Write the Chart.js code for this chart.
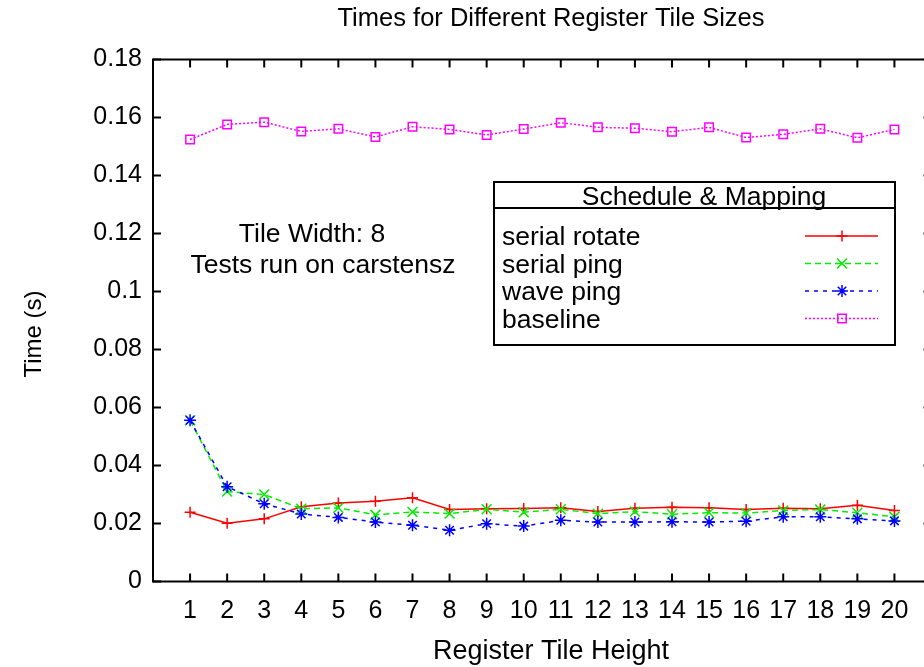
<!DOCTYPE html>
<html>
<head>
<meta charset="utf-8">
<script src="https://cdn.jsdelivr.net/npm/chart.js@4"></script>
<style>
  html, body { margin: 0; padding: 0; background: #fff; overflow: hidden; }
  canvas { display: block; }
</style>
</head>
<body>
<canvas id="tiles" width="940" height="667"></canvas>
<script>
const tileHeights = [1, 2, 3, 4, 5, 6, 7, 8, 9, 10, 11, 12, 13, 14, 15, 16, 17, 18, 19, 20];
const serialRotate = [0.0239, 0.0201, 0.0216, 0.0258, 0.0271, 0.0277, 0.0289, 0.0248, 0.0251, 0.0252,
                      0.0254, 0.0241, 0.0253, 0.0256, 0.0254, 0.0248, 0.0253, 0.0251, 0.0263, 0.0245];
const serialPing = [0.0556, 0.0310, 0.0300, 0.0251, 0.0254, 0.0230, 0.0240, 0.0234, 0.0249, 0.0239,
                    0.0249, 0.0234, 0.0241, 0.0232, 0.0237, 0.0236, 0.0245, 0.0248, 0.0237, 0.0223];
const wavePing = [0.0556, 0.0327, 0.0268, 0.0233, 0.0221, 0.0205, 0.0194, 0.0177, 0.0199, 0.0191,
                  0.0211, 0.0205, 0.0205, 0.0206, 0.0205, 0.0208, 0.0223, 0.0223, 0.0216, 0.0209];
const baseline = [0.1524, 0.1576, 0.1584, 0.1552, 0.1561, 0.1533, 0.1568, 0.1559, 0.1540, 0.1560,
                  0.1582, 0.1566, 0.1563, 0.1551, 0.1566, 0.1531, 0.1542, 0.1561, 0.1530, 0.1559];
const seriesNames = ["serial rotate", "serial ping", "wave ping", "baseline"];
const chartTitle = "Times for Different Register Tile Sizes";
const xTitle = "Register Tile Height";
const yTitle = "Time (s)";
const legendTitle = "Schedule & Mapping";
const noteLines = ["Tile Width: 8", "Tests run on carstensz"];

const FONT = "'Liberation Sans', Arial, Helvetica, sans-serif";

function pts(vals) {
    return tileHeights.map((h, i) => ({ x: h, y: vals[i] }));
}

// gnuplot style frame with inward ticks, titles, legend box and label
const gnuplotBits = {
    id: "gnuplotBits",
    afterDraw(chart) {
        const ctx = chart.ctx;
        const a = chart.chartArea;
        const xs = chart.scales.x, ys = chart.scales.y;
        ctx.save();
        ctx.strokeStyle = "#000";
        ctx.lineWidth = 2;
        ctx.beginPath();
        ys.ticks.forEach(t => {
            const y = ys.getPixelForValue(t.value);
            ctx.moveTo(a.left, y); ctx.lineTo(a.left + 8, y);
            ctx.moveTo(a.right, y); ctx.lineTo(a.right - 8, y);
        });
        tileHeights.forEach(h => {
            const x = xs.getPixelForValue(h);
            ctx.moveTo(x, a.bottom); ctx.lineTo(x, a.bottom - 8);
            ctx.moveTo(x, a.top); ctx.lineTo(x, a.top + 8);
        });
        ctx.stroke();
        ctx.strokeRect(a.left, a.top, a.right - a.left, a.bottom - a.top);

        // titles
        ctx.fillStyle = "#000";
        ctx.textBaseline = "alphabetic";
        ctx.textAlign = "center";
        ctx.font = "25.5px " + FONT;
        ctx.fillText(chartTitle, 551, 25.5);
        ctx.font = "27px " + FONT;
        ctx.fillText(xTitle, 551, 659);
        ctx.save();
        ctx.font = "24px " + FONT;
        ctx.translate(41, 334);
        ctx.rotate(-Math.PI / 2);
        ctx.fillText(yTitle, 0, 0);
        ctx.restore();

        // note text
        ctx.font = "26.5px " + FONT;
        ctx.fillText(noteLines[0], 312, 242);
        ctx.fillText(noteLines[1], 323, 273);

        // legend box
        const L = 494, T = 182, R = 895, B = 345, H = 208;
        ctx.fillStyle = "#fff";
        ctx.fillRect(L, T, R - L, B - T);
        ctx.lineWidth = 2;
        ctx.strokeStyle = "#000";
        ctx.strokeRect(L, T, R - L, B - T);
        ctx.beginPath();
        ctx.moveTo(L, H); ctx.lineTo(R, H);
        ctx.stroke();
        ctx.fillStyle = "#000";
        ctx.textAlign = "center";
        ctx.fillText(legendTitle, 704, 205);
        chart.data.datasets.forEach((ds, i) => {
            const y = 236 + i * 27.5;
            ctx.fillStyle = "#000";
            ctx.textAlign = "left";
            ctx.fillText(ds.label, 502, y + 9);
            ctx.save();
            ctx.strokeStyle = ds.borderColor;
            ctx.fillStyle = "rgba(0,0,0,0)";
            ctx.lineWidth = ds.borderWidth;
            ctx.setLineDash(ds.borderDash || []);
            ctx.beginPath();
            ctx.moveTo(805, y); ctx.lineTo(878, y);
            ctx.stroke();
            ctx.setLineDash([]);
            ctx.lineWidth = ds.pointBorderWidth;
            Chart.helpers.drawPoint(ctx, {
                pointStyle: ds.pointStyle, radius: ds.pointRadius, rotation: 0,
                borderWidth: ds.pointBorderWidth
            }, 842, y);
            ctx.restore();
        });
        ctx.restore();
    }
};

new Chart("tiles", {
    type: "line",
    data: {
        datasets: [
            {
                label: seriesNames[0],
                data: pts(serialRotate),
                borderColor: "#ff0000",
                borderWidth: 1.5,
                pointStyle: "cross",
                pointRadius: 5.5,
                pointBorderWidth: 1.5,
                pointBorderColor: "#ff0000",
                order: 4
            },
            {
                label: seriesNames[1],
                data: pts(serialPing),
                borderColor: "#00ee00",
                borderWidth: 1.5,
                borderDash: [6, 4],
                pointStyle: "crossRot",
                pointRadius: 7,
                pointBorderWidth: 1.5,
                pointBorderColor: "#00ee00",
                order: 3
            },
            {
                label: seriesNames[2],
                data: pts(wavePing),
                borderColor: "#0000ff",
                borderWidth: 1.5,
                borderDash: [4, 5],
                pointStyle: "star",
                pointRadius: 6,
                pointBorderWidth: 1.5,
                pointBorderColor: "#0000ff",
                order: 2
            },
            {
                label: seriesNames[3],
                data: pts(baseline),
                borderColor: "#ff00ff",
                borderWidth: 1.5,
                borderDash: [2, 2],
                pointStyle: "rect",
                pointRadius: 6,
                pointBorderWidth: 1.5,
                pointBorderColor: "#ff00ff",
                pointBackgroundColor: "rgba(0,0,0,0)",
                order: 1
            }
        ]
    },
    options: {
        responsive: false,
        animation: false,
        devicePixelRatio: 1,
        layout: { padding: { left: 0, right: 8, top: 59.5, bottom: 0 } },
        plugins: {
            legend: { display: false },
            tooltip: { enabled: false },
            title: { display: false }
        },
        scales: {
            x: {
                type: "linear",
                min: 0,
                max: 21,
                afterFit: s => { s.height = 85.5; s.paddingLeft = 0; s.paddingRight = 0; },
                grid: { display: false, drawTicks: false },
                border: { display: false },
                ticks: {
                    stepSize: 1,
                    autoSkip: false,
                    maxRotation: 0,
                    padding: 15,
                    color: "#000",
                    font: { family: FONT, size: 25 },
                    callback: v => (v >= 1 && v <= 20) ? String(v) : ""
                },
                title: { display: false }
            },
            y: {
                min: 0,
                max: 0.18,
                afterFit: s => { s.width = 153; },
                grid: { display: false, drawTicks: false },
                border: { display: false },
                ticks: {
                    stepSize: 0.02,
                    padding: 11,
                    color: "#000",
                    font: { family: FONT, size: 25 },
                    callback: v => String(Math.round(v * 100) / 100)
                },
                title: { display: false }
            }
        }
    },
    plugins: [gnuplotBits]
});
</script>
</body>
</html>
